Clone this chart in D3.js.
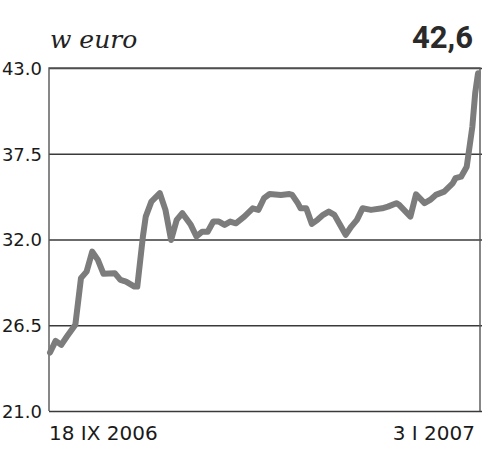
<!DOCTYPE html>
<html>
<head>
<meta charset="utf-8">
<script src="https://cdn.jsdelivr.net/npm/d3@7"></script>
<style>
  body { margin: 0; background: #fff; }
  svg { display: block; }
</style>
</head>
<body>
<div id="chart"></div>
<script>
// trading day index since 18 IX 2006
var days = [0, 1, 2, 3, 4.5, 5.5, 6.5, 7.5, 8.5, 9.5, 11.5, 12.5, 13.5, 15, 15.5,
    16.5, 17, 18, 19.5, 20.5, 21.5, 22.5, 23.5, 25, 26, 27, 28, 29, 30, 31, 32, 33,
    34.5, 36, 37, 38, 39, 41, 42.5, 43, 44, 44.5, 45.5, 46.5, 47.5, 48.5, 49.5, 50.5,
    51.5, 52.5, 53.5, 54.5, 55.5, 57, 59, 60, 61.5, 62, 64, 65, 66.5, 67.5, 68.5,
    70, 71.5, 72, 73, 74, 75, 75.5, 76];
var prices = [24.75, 25.5, 25.24, 25.78, 26.53, 29.52, 29.94, 31.22, 30.69, 29.8,
    29.84, 29.41, 29.3, 28.98, 28.98, 32.19, 33.47, 34.43, 34.97, 33.9, 31.97, 33.26,
    33.69, 32.94, 32.19, 32.5, 32.5, 33.15, 33.15, 32.94, 33.15, 33.04, 33.47, 34.0,
    33.9, 34.65, 34.92, 34.86, 34.92, 34.86, 34.33, 34.0, 34.0, 33.0, 33.26, 33.58,
    33.79, 33.58, 32.94, 32.3, 32.83, 33.26, 34.0, 33.9, 34.0, 34.11, 34.33, 34.22,
    33.47, 34.9, 34.33, 34.54, 34.86, 35.07, 35.6, 35.93, 36.03, 36.67, 39.24, 41.38,
    42.66];
var yTicks = [21.0, 26.5, 32.0, 37.5, 43.0];
var dateLabels = ["18 IX 2006", "3 I 2007"];
var unitLabel = "w euro";
var lastValue = "42,6";

var width = 500, height = 457;
var plotLeft = 49, plotRight = 480, plotTop = 68, plotBottom = 411;

var svg = d3.select("#chart").append("svg")
    .attr("width", width)
    .attr("height", height);

var x = d3.scaleLinear().domain([0, 76]).range([50, 478]);
var y = d3.scaleLinear().domain([21, 43]).range([plotBottom, plotTop]);

// gridlines + tick labels
var yAxis = d3.axisLeft(y)
    .tickValues(yTicks)
    .tickSize(-(plotRight - plotLeft + 2))
    .tickFormat(d3.format(".1f"));

var g = svg.append("g")
    .attr("transform", "translate(" + plotLeft + ",0)")
    .call(yAxis);
g.select(".domain").remove();
g.selectAll(".tick line")
    .attr("stroke", "#3a3a3a")
    .attr("stroke-width", 1.4);
g.selectAll(".tick text")
    .attr("x", -7)
    .attr("dy", "0.36em")
    .attr("fill", "#1a1a1a")
    .style("font-family", "DejaVu Sans")
    .style("font-size", "18px");

// frame: left, top, right
svg.append("path")
    .attr("d", "M" + plotLeft + "," + plotBottom + "V" + plotTop + "H" + plotRight + "V" + plotBottom)
    .attr("fill", "none")
    .attr("stroke", "#555")
    .attr("stroke-width", 1.4);

var line = d3.line()
    .x(function(d, i) { return x(days[i]); })
    .y(function(d) { return y(d); });

svg.append("path")
    .datum(prices)
    .attr("d", line)
    .attr("fill", "none")
    .attr("stroke", "#7c7c7c")
    .attr("stroke-width", 6)
    .attr("stroke-linejoin", "round")
    .attr("stroke-linecap", "round");

// date labels
svg.append("text")
    .attr("x", 49)
    .attr("y", 440)
    .attr("fill", "#1a1a1a")
    .style("font-family", "DejaVu Sans")
    .style("font-size", "20px")
    .text(dateLabels[0]);

svg.append("text")
    .attr("x", 475)
    .attr("y", 440)
    .attr("text-anchor", "end")
    .attr("fill", "#1a1a1a")
    .style("font-family", "DejaVu Sans")
    .style("font-size", "20px")
    .text(dateLabels[1]);

// title bits
svg.append("text")
    .attr("x", 50)
    .attr("y", 48)
    .attr("fill", "#222")
    .style("font-family", "DejaVu Serif")
    .style("font-style", "italic")
    .style("font-size", "25px")
    .text(unitLabel);

svg.append("text")
    .attr("x", 473)
    .attr("y", 48)
    .attr("text-anchor", "end")
    .attr("fill", "#2a2a2a")
    .style("font-family", "Roboto")
    .style("font-weight", "bold")
    .style("font-size", "31px")
    .text(lastValue);
</script>
</body>
</html>
